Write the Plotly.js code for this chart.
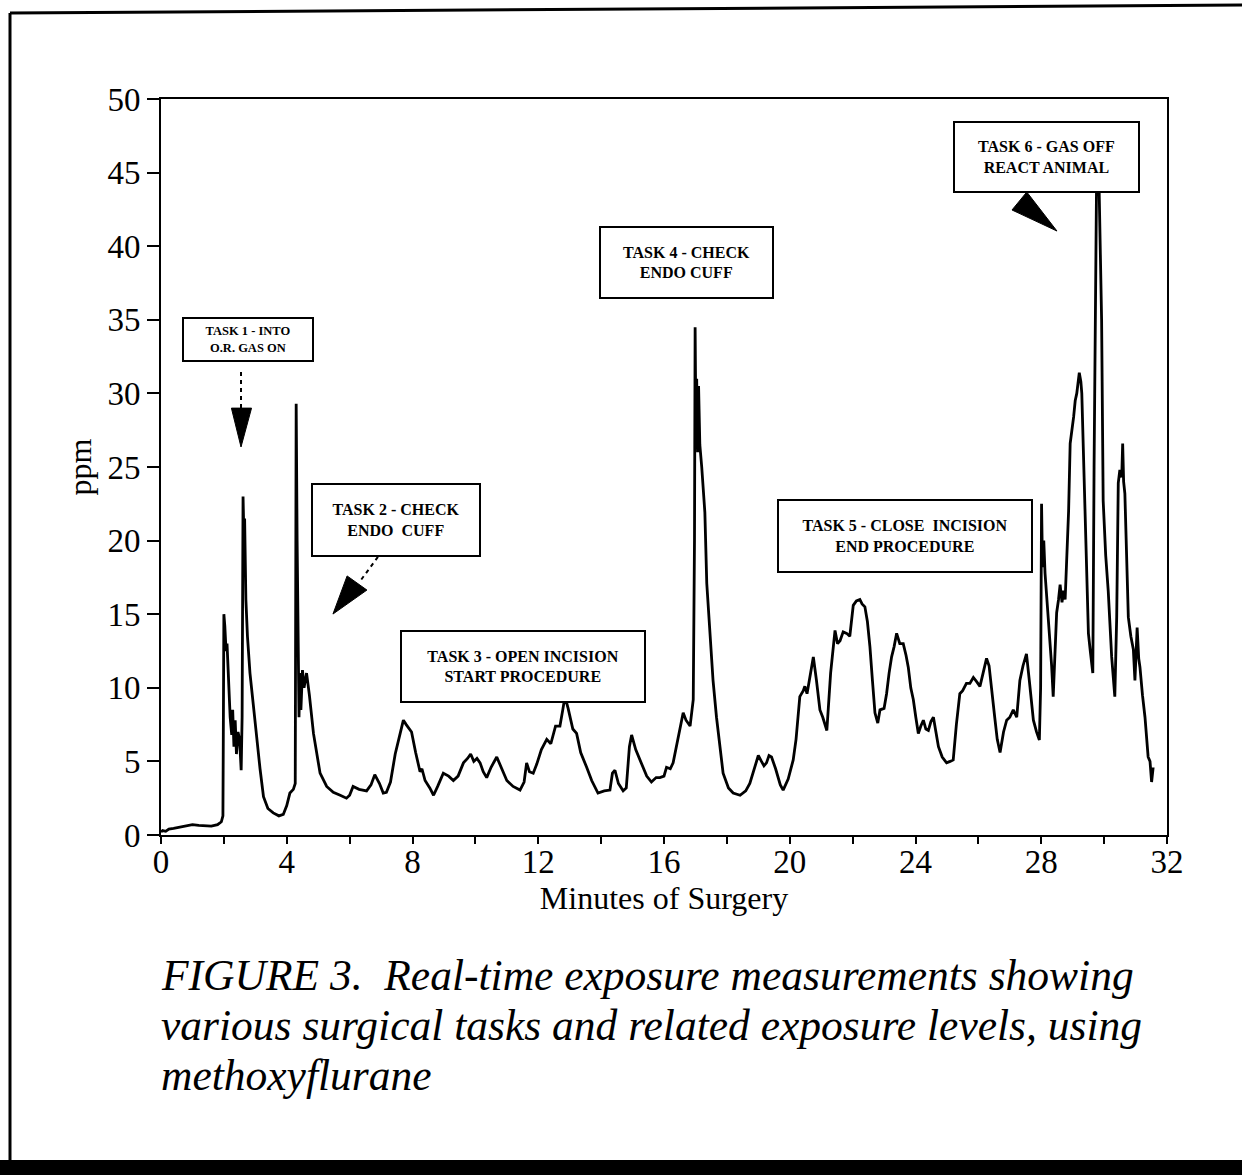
<!DOCTYPE html>
<html>
<head>
<meta charset="utf-8">
<script src="https://cdn.plot.ly/plotly-3.0.1.min.js"></script>
<style>html,body{margin:0;padding:0;background:#fff;}#chart{width:1242px;height:1175px;}</style>
</head>
<body>
<div id="chart"></div>
<script>
// Minutes of surgery (x) and methoxyflurane concentration in ppm (y)
var minutes = [
0.00,0.05,0.15,0.25,0.40,0.60,0.80,1.00,1.20,1.40,1.60,1.80,1.92,1.97,
2.00,2.03,2.07,2.10,2.15,2.20,2.25,2.28,2.32,2.36,2.40,2.45,2.50,2.55,2.58,2.61,2.64,2.66,2.70,2.75,2.83,2.95,
3.04,3.15,3.26,3.40,3.57,3.75,3.89,4.00,4.10,4.21,4.27,4.30,4.33,4.36,4.39,4.42,4.45,4.50,4.55,4.63,4.72,4.85,4.95,
5.06,5.27,5.48,5.70,5.90,6.00,6.11,6.30,6.54,6.68,6.80,6.95,7.07,7.17,7.30,7.45,7.60,7.71,7.80,7.97,
8.10,8.24,8.30,8.40,8.55,8.67,8.80,8.98,9.15,9.30,9.45,9.62,9.75,9.85,9.95,
10.05,10.15,10.25,10.36,10.50,10.68,10.85,11.00,11.20,11.42,11.55,11.63,11.72,11.84,11.95,
12.10,12.27,12.40,12.55,12.69,12.78,12.85,12.95,13.10,13.22,13.35,13.54,13.70,13.90,
14.10,14.28,14.36,14.44,14.55,14.70,14.80,14.90,14.97,15.10,15.25,15.45,15.60,15.75,15.87,
16.00,16.08,16.20,16.29,16.45,16.61,16.70,16.83,16.93,16.97,16.99,17.01,17.04,17.07,17.10,17.14,17.20,17.30,17.36,17.46,17.56,17.67,17.78,17.88,
18.05,18.20,18.42,18.60,18.73,18.88,19.00,19.10,19.18,19.26,19.34,19.42,19.55,19.70,19.79,19.95,
20.11,20.20,20.32,20.43,20.48,20.55,20.65,20.75,20.85,20.96,21.05,21.18,21.30,21.44,21.52,21.60,21.70,21.81,21.91,
22.02,22.12,22.23,22.30,22.39,22.47,22.55,22.63,22.71,22.80,22.87,23.00,23.08,23.16,23.24,23.32,23.40,23.50,23.61,23.70,23.77,23.85,23.93,
24.01,24.09,24.17,24.25,24.33,24.41,24.49,24.57,24.65,24.73,24.85,24.99,25.10,25.20,25.30,25.41,25.50,25.62,25.73,25.84,25.95,
26.05,26.15,26.26,26.34,26.42,26.52,26.60,26.69,26.80,26.90,27.00,27.11,27.22,27.32,27.42,27.53,27.62,27.75,27.85,27.94,27.98,
28.01,28.04,28.08,28.12,28.20,28.28,28.33,28.38,28.44,28.49,28.55,28.60,28.66,28.71,28.76,28.81,28.87,28.92,28.98,
29.03,29.08,29.13,29.21,29.26,29.29,29.35,29.40,29.50,29.56,29.64,29.68,29.72,29.76,29.84,29.92,29.97,
30.05,30.13,30.24,30.34,30.40,30.45,30.50,30.56,30.59,30.62,30.66,30.77,30.85,30.93,30.98,
31.02,31.05,31.10,31.14,31.22,31.30,31.40,31.46,31.51,31.56
];
var ppm = [
0.2,0.3,0.25,0.4,0.45,0.55,0.65,0.7,0.65,0.6,0.6,0.7,0.9,1.3,
15.0,14.2,12.5,13.0,10.5,8.0,6.8,8.5,6.0,7.8,5.5,7.0,6.5,4.4,8.0,23.0,20.0,21.5,16.0,13.5,11.0,8.5,
6.9,4.5,2.6,1.8,1.5,1.3,1.4,2.0,2.85,3.1,3.5,29.3,20.0,10.3,8.0,11.0,8.5,11.2,10.0,11.0,9.5,6.9,5.5,
4.2,3.3,2.9,2.7,2.5,2.7,3.3,3.1,3.0,3.4,4.1,3.5,2.85,2.9,3.6,5.5,6.9,7.8,7.5,7.0,
5.6,4.3,4.5,3.7,3.2,2.7,3.3,4.2,4.0,3.7,4.0,4.9,5.2,5.5,5.0,
5.2,4.9,4.3,3.9,4.6,5.3,4.5,3.7,3.3,3.05,3.6,4.9,4.3,4.2,4.8,
5.8,6.5,6.2,7.4,7.4,8.5,9.4,8.6,7.2,6.9,5.6,4.6,3.7,2.85,
3.0,3.05,4.2,4.4,3.5,3.0,3.2,6.0,6.8,5.8,5.0,4.0,3.6,3.9,3.9,
4.0,4.6,4.5,4.9,6.5,8.3,7.8,7.4,9.2,20.0,34.5,29.0,31.0,26.0,30.5,26.5,25.0,21.9,17.1,13.7,10.5,8.0,5.8,4.2,
3.2,2.85,2.7,3.0,3.5,4.5,5.4,5.0,4.7,4.9,5.4,5.3,4.5,3.4,3.05,3.8,
5.1,6.5,9.4,9.8,10.1,9.6,11.0,12.1,10.5,8.5,8.0,7.1,11.0,13.9,13.0,13.2,13.8,13.7,13.5,
15.6,15.9,16.0,15.7,15.5,14.5,12.8,10.5,8.3,7.6,8.5,8.6,9.6,11.0,12.1,12.8,13.7,13.0,13.0,12.2,11.4,10.0,9.2,
8.0,6.9,7.4,7.8,7.2,7.1,7.7,8.0,7.0,6.0,5.3,4.9,5.0,5.1,7.5,9.6,9.8,10.3,10.3,10.7,10.4,
10.1,11.0,12.0,11.5,10.1,8.0,6.5,5.6,7.0,7.8,8.0,8.5,8.0,10.5,11.5,12.3,10.5,7.8,7.0,6.45,10.0,
22.5,18.2,20.0,17.8,15.5,13.0,11.5,9.4,13.0,15.1,16.0,17.0,15.8,16.6,16.0,18.5,22.0,26.6,27.5,
28.4,29.5,30.0,31.4,30.8,30.0,25.0,21.6,13.7,12.5,11.0,25.0,38.0,44.5,44.0,35.0,22.7,
19.0,16.6,12.1,9.4,14.8,23.9,24.8,24.3,26.6,24.0,23.2,14.8,13.5,12.6,10.5,
12.5,14.1,12.0,11.4,9.5,8.0,5.3,5.0,3.6,4.6
];
var xTickVals = [0,4,8,12,16,20,24,28,32];
var yTickVals = [0,5,10,15,20,25,30,35,40,45,50];

// Task call-outs: label, centre (minutes, ppm), box size in px, font size
var taskLabels = [
  "TASK 1 - INTO<br>O.R. GAS ON",
  "TASK 2 - CHECK<br>ENDO  CUFF",
  "TASK 3 - OPEN INCISION<br>START PROCEDURE",
  "TASK 4 - CHECK<br>ENDO CUFF",
  "TASK 5 - CLOSE  INCISION<br>END PROCEDURE",
  "TASK 6 - GAS OFF<br>REACT ANIMAL"
];
var taskX = [2.78, 7.49, 11.50, 16.70, 23.65, 28.18];
var taskY = [33.63, 21.43, 11.48, 38.86, 20.28, 46.03];
var taskW = [128, 166, 242, 171, 252, 183];
var taskH = [41, 70, 69, 69, 70, 68];
var taskFont = [12.5, 16, 16, 16, 16, 16];

var captionLines = [
  "FIGURE 3.  Real-time exposure measurements showing",
  "various surgical tasks and related exposure levels, using",
  "methoxyflurane"
];

var serif = "Liberation Serif, Times New Roman, serif";

var trace = {
  x: minutes, y: ppm, type: "scatter", mode: "lines",
  line: {color: "#000", width: 2.8, shape: "linear"},
  hoverinfo: "skip", showlegend: false
};

var annotations = [];
for (var i = 0; i < taskLabels.length; i++) {
  annotations.push({
    x: taskX[i], y: taskY[i], xref: "x", yref: "y",
    text: taskLabels[i], showarrow: false,
    width: taskW[i], height: taskH[i], align: "center", valign: "middle",
    bgcolor: "#fff", bordercolor: "#000", borderwidth: 2, borderpad: 0,
    font: {family: serif, size: taskFont[i], color: "#000", weight: "bold"}
  });
}
var capY = [-0.190, -0.258, -0.326];
for (var j = 0; j < captionLines.length; j++) {
  annotations.push({
    xref: "paper", yref: "paper", x: -0.002, y: capY[j],
    xanchor: "left", yanchor: "middle", align: "left",
    text: captionLines[j], showarrow: false,
    font: {family: serif, size: 43.5, color: "#000", style: "italic"}
  });
}

// arrow pointers (dashed stems + filled heads), in data units
var shapes = [
  {type: "line", xref: "x", yref: "y", x0: 2.545, y0: 31.45, x1: 2.545, y1: 28.9,
   line: {color: "#000", width: 2, dash: "4px,4px"}},
  {type: "path", xref: "x", yref: "y", path: "M 2.24 29.0 L 2.88 29.0 L 2.545 26.36 Z",
   fillcolor: "#000", line: {color: "#000", width: 1}},
  {type: "line", xref: "x", yref: "y", x0: 6.90, y0: 18.89, x1: 6.30, y1: 17.15,
   line: {color: "#000", width: 2, dash: "4px,4px"}},
  {type: "path", xref: "x", yref: "y", path: "M 5.92 17.6 L 6.55 16.64 L 5.47 15.01 Z",
   fillcolor: "#000", line: {color: "#000", width: 1}},
  {type: "path", xref: "x", yref: "y", path: "M 27.54 43.68 L 27.07 42.46 L 28.50 41.03 Z",
   fillcolor: "#000", line: {color: "#000", width: 1}},
  // page frame
  {type: "line", xref: "paper", yref: "paper", x0: -0.1501, y0: 1.1168, x1: 1.08, y1: 1.1277,
   line: {color: "#000", width: 3}},
  {type: "line", xref: "paper", yref: "paper", x0: -0.1501, y0: 1.1168, x1: -0.1501, y1: -0.4416,
   line: {color: "#000", width: 3}},
  {type: "rect", xref: "paper", yref: "paper", x0: -0.17, y0: -0.4416, x1: 1.08, y1: -0.48,
   fillcolor: "#000", line: {width: 0}}
];

var layout = {
  width: 1242, height: 1175,
  margin: {l: 161, r: 75, t: 99, b: 340, pad: 0},
  paper_bgcolor: "#fff", plot_bgcolor: "#fff",
  showlegend: false,
  xaxis: {
    range: [0, 32], tickvals: xTickVals, ticktext: xTickVals.map(String),
    ticks: "outside", ticklen: 7, tickwidth: 2, tickcolor: "#000",
    ticklabelstandoff: -11,
    minor: {dtick: 2, tick0: 0, ticks: "outside", ticklen: 7, tickwidth: 2, tickcolor: "#000", showgrid: false},
    showline: true, linecolor: "#000", linewidth: 2, mirror: true,
    showgrid: false, zeroline: false,
    tickfont: {family: serif, size: 33, color: "#000"},
    title: {text: "Minutes of Surgery", font: {family: serif, size: 32, color: "#000"}, standoff: 4}
  },
  yaxis: {
    range: [0, 50], tickvals: yTickVals, ticktext: yTickVals.map(String),
    ticks: "outside", ticklen: 12, tickwidth: 2, tickcolor: "#000",
    showline: true, linecolor: "#000", linewidth: 2, mirror: true,
    showgrid: false, zeroline: false,
    tickfont: {family: serif, size: 33, color: "#000"},
    title: {text: "ppm", font: {family: serif, size: 32, color: "#000"}, standoff: 6}
  },
  annotations: annotations,
  shapes: shapes
};

Plotly.newPlot("chart", [trace], layout, {staticPlot: true, displayModeBar: false});
</script>
</body>
</html>
